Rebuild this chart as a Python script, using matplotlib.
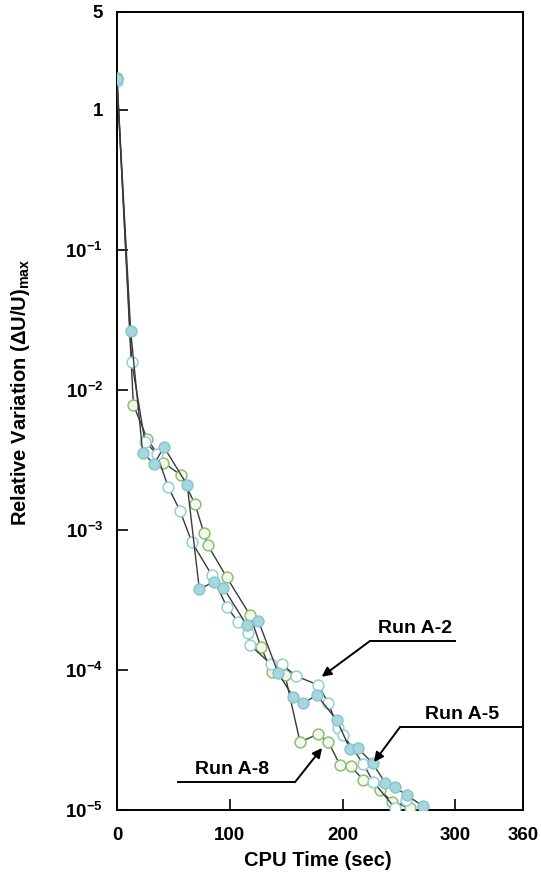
import matplotlib
matplotlib.use("Agg")
import matplotlib.pyplot as plt
from matplotlib import font_manager

plt.rcParams['font.family'] = ['Liberation Sans', 'DejaVu Sans']
plt.rcParams['font.weight'] = 'bold'
plt.rcParams['mathtext.fontset'] = 'custom'
plt.rcParams['mathtext.rm'] = 'Liberation Sans'
plt.rcParams['mathtext.bf'] = 'Liberation Sans:bold'
plt.rcParams['mathtext.it'] = 'Liberation Sans:italic'

names = set(f.name for f in font_manager.fontManager.ttflist)
narrow = 'Liberation Sans Narrow' if 'Liberation Sans Narrow' in names else 'Liberation Sans'

# Run A-5 (filled markers)
t_a5 = [0, 12.1, 22.8, 32.8, 41.7, 62.3, 73.0, 86.3, 94.3, 115.0, 125.3, 143.0,
        156.1, 165.2, 177.1, 194.8, 206.6, 213.4, 226.7, 237.6, 246.5, 256.9, 271.6]
v_a5 = [1.66, 2.64e-2, 3.56e-3, 2.96e-3, 3.90e-3, 2.09e-3, 3.77e-4, 4.28e-4, 3.87e-4,
        2.09e-4, 2.25e-4, 9.46e-5, 6.44e-5, 5.78e-5, 6.62e-5, 4.40e-5, 2.73e-5,
        2.77e-5, 2.16e-5, 1.57e-5, 1.45e-5, 1.28e-5, 1.06e-5]

# Run A-2 (open markers)
t_a2 = [0, 13.0, 24.8, 35.2, 45.5, 55.9, 66.2, 84.0, 97.3, 107.6, 116.4, 117.9,
        136.5, 146.0, 158.7, 178.5, 187.4, 196.2, 200.7, 218.4, 227.3, 246.5, 256.3]
v_a2 = [1.60, 1.59e-2, 4.28e-3, 3.49e-3, 2.02e-3, 1.37e-3, 8.24e-4, 4.77e-4, 2.83e-4,
        2.19e-4, 1.84e-4, 1.51e-4, 1.10e-4, 1.10e-4, 9.06e-5, 7.81e-5, 5.78e-5,
        3.84e-5, 3.43e-5, 2.13e-5, 1.59e-5, 1.03e-5, 1.18e-5]

# Run A-8 (green markers)
t_a8 = [0, 14.5, 26.9, 41.1, 56.5, 69.2, 77.1, 80.4, 97.3, 117.9, 127.7, 137.2,
        149.0, 162.3, 178.5, 187.4, 197.7, 207.2, 218.4, 233.2, 243.6, 259.8]
v_a8 = [1.70, 7.82e-3, 4.45e-3, 3.03e-3, 2.47e-3, 1.53e-3, 9.46e-4, 7.82e-4, 4.59e-4,
        2.47e-4, 1.45e-4, 9.73e-5, 9.20e-5, 3.06e-5, 3.49e-5, 3.06e-5, 2.10e-5,
        2.06e-5, 1.64e-5, 1.39e-5, 1.15e-5, 1.03e-5]

x_ticks = [0, 100, 200, 300, 360]
y_ticks = [1e-5, 1e-4, 1e-3, 1e-2, 1e-1, 1, 5]
y_labels = [r'$\mathbf{10^{-5}}$', r'$\mathbf{10^{-4}}$', r'$\mathbf{10^{-3}}$',
            r'$\mathbf{10^{-2}}$', r'$\mathbf{10^{-1}}$', '1', '5']

fig = plt.figure(figsize=(5.41, 8.76), dpi=100)
ax = fig.add_axes([117/541, 66/876, 406/541, 798/876])

line_kw = dict(color='#3a3a3a', lw=1.0, ms=7.8, mew=1.1, zorder=3)
ax.plot(t_a8, v_a8, marker='o', mfc='#f2f8ec', mec='#8cbf6e', **line_kw)
ax.plot(t_a2, v_a2, marker='o', mfc='#ffffff', mec='#92d0d6', **line_kw)
ax.plot(t_a5, v_a5, marker='o', mfc='#a9d6dc', mec='#86c6ce', **line_kw)

ax.set_yscale('log')
ax.set_xlim(0, 360)
ax.set_ylim(1e-5, 5)
ax.set_xticks(x_ticks)
ax.set_xticklabels([str(v) for v in x_ticks])
ax.set_yticks(y_ticks)
ax.set_yticklabels(y_labels)
ax.minorticks_off()
ax.tick_params(direction='in', length=8, width=1.2, labelsize=13.5)
ax.tick_params(axis='x', pad=12)
ax.tick_params(axis='y', pad=10)
for s in ax.spines.values():
    s.set_linewidth(1.4)

ax.set_xlabel('CPU Time (sec)', fontsize=14.5, fontweight='bold')
ax.xaxis.set_label_coords(0.495, -0.051)
ax.set_ylabel('Relative Variation (ΔU/U)$_{\\mathrm{max}}$', fontsize=14.5,
              fontweight='bold', family=[narrow, 'DejaVu Sans'])
ax.yaxis.set_label_coords(-0.209, 0.524)

arrow_kw = dict(arrowstyle='-|>', color='black', lw=1.4, mutation_scale=14, shrinkA=0, shrinkB=0)
# Run A-2
ax.plot([224.3, 299.7], [1.61e-4, 1.61e-4], color='black', lw=1.4, clip_on=False)
ax.annotate('', xy=(181.5, 8.95e-5), xytext=(224.3, 1.61e-4), arrowprops=arrow_kw)
ax.text(264, 1.72e-4, 'Run A-2', ha='center', va='bottom', fontsize=14, fontweight='bold')
# Run A-5
ax.plot([251, 360], [3.92e-5, 3.92e-5], color='black', lw=1.4, clip_on=False)
ax.annotate('', xy=(227.9, 2.2e-5), xytext=(251, 3.92e-5), arrowprops=arrow_kw)
ax.text(306, 4.2e-5, 'Run A-5', ha='center', va='bottom', fontsize=14, fontweight='bold')
# Run A-8
ax.plot([54.1, 157.8], [1.58e-5, 1.58e-5], color='black', lw=1.4, clip_on=False)
ax.annotate('', xy=(181.8, 2.77e-5), xytext=(157.8, 1.58e-5), arrowprops=arrow_kw)
ax.text(102, 1.7e-5, 'Run A-8', ha='center', va='bottom', fontsize=14, fontweight='bold')

fig.savefig('out.png', dpi=100)
